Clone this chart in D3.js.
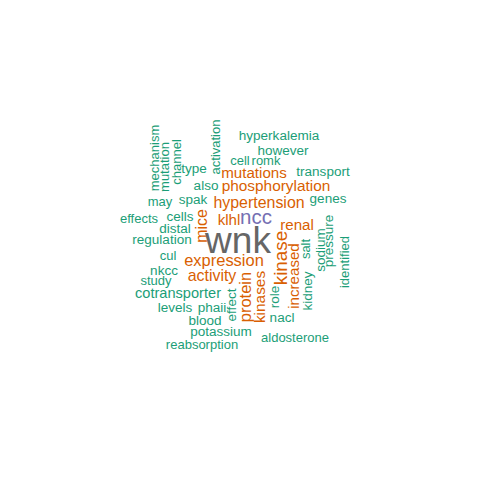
<!DOCTYPE html>
<html>
<head>
<meta charset="utf-8">
<script src="https://cdn.jsdelivr.net/npm/d3@7"></script>
<style>
  html, body { margin: 0; padding: 0; background: #fff; }
  svg { display: block; }
</style>
</head>
<body>
<div id="cloud"></div>
<script>
// words, their frequencies, and where the cloud layout put them (cloud units, centre = 0)
var words = ['hyperkalemia','however','cell','romk','activation','mutations','transport',
  'phosphorylation','also','type','channel','mutation','mechanism','spak','may',
  'hypertension','genes','effects','cells','mice','klhl','ncc','renal','distal',
  'regulation','wnk','kinase','increased','salt','pressure','sodium','identified',
  'kidney','cul','expression','nkcc','study','activity','protein','kinases','role',
  'cotransporter','effect','levels','phaii','nacl','blood','potassium','aldosterone',
  'reabsorption'];
var freq = [12,12,10,10,10,18,12,
  19,12,12,10,10,10,12,10,
  21,12,10,12,21,18,38,18,12,
  12,100,32,18,10,12,12,10,
  12,10,23,12,10,21,23,19,12,
  16,12,12,12,12,12,12,10,
  10];
var layoutX = [0.39,0.43,0.00,0.26,-0.24,0.14,0.83,
  0.36,-0.34,-0.46,-0.63,-0.75,-0.85,-0.47,-0.80,
  0.19,0.88,-1.01,-0.60,-0.38,-0.11,0.16,0.57,-0.65,
  -0.78,-0.02,0.41,0.54,0.66,0.89,0.81,1.05,
  0.68,-0.72,-0.16,-0.76,-0.84,-0.28,0.06,0.20,0.35,
  -0.62,-0.08,-0.65,-0.28,0.42,-0.35,-0.19,0.55,
  -0.38];
var layoutY = [-1.04,-0.89,-0.79,-0.79,-0.93,-0.67,-0.68,
  -0.54,-0.54,-0.71,-0.78,-0.73,-0.82,-0.40,-0.38,
  -0.37,-0.41,-0.21,-0.23,-0.14,-0.20,-0.22,-0.15,-0.11,
  0.00,0.02,0.18,0.36,0.09,0.01,0.10,0.22,
  0.51,0.16,0.21,0.31,0.41,0.36,0.57,0.57,0.57,
  0.54,0.65,0.68,0.68,0.78,0.81,0.92,0.98,
  1.05];
var vertical = [0,0,0,0,1,0,0,
  0,0,0,1,1,1,0,0,
  0,0,0,0,1,0,0,0,0,
  0,0,1,1,1,1,1,1,
  1,0,0,0,0,0,1,1,1,
  0,1,0,0,0,0,0,0,
  0];

var width = 480, height = 480;

var x = d3.scaleLinear().domain([-1, 1]).range([140, 340]);
var y = d3.scaleLinear().domain([-1, 1]).range([140, 340]);
var size = d3.scaleLinear().domain([10, 100]).range([13, 37]);
var colour = d3.scaleThreshold()
  .domain([17, 35, 70])
  .range(['#1b9e77', '#d95f02', '#7570b3', '#666666']);

var svg = d3.select('#cloud').append('svg')
  .attr('width', width)
  .attr('height', height);

var data = words.map(function(w, i) {
  return { text: w, f: freq[i], cx: layoutX[i], cy: layoutY[i], rot: vertical[i] ? -90 : 0 };
});

svg.append('g').selectAll('text')
  .data(data)
  .enter().append('text')
  .attr('transform', function(d) {
    return 'translate(' + x(d.cx) + ',' + y(d.cy) + ') rotate(' + d.rot + ')';
  })
  .attr('text-anchor', 'middle')
  .attr('dy', '0.3em')
  .style('font-family', '"Liberation Sans", Arial, sans-serif')
  .style('font-size', function(d) { return size(d.f) + 'px'; })
  .style('fill', function(d) { return colour(d.f); })
  .text(function(d) { return d.text; });
</script>
</body>
</html>
